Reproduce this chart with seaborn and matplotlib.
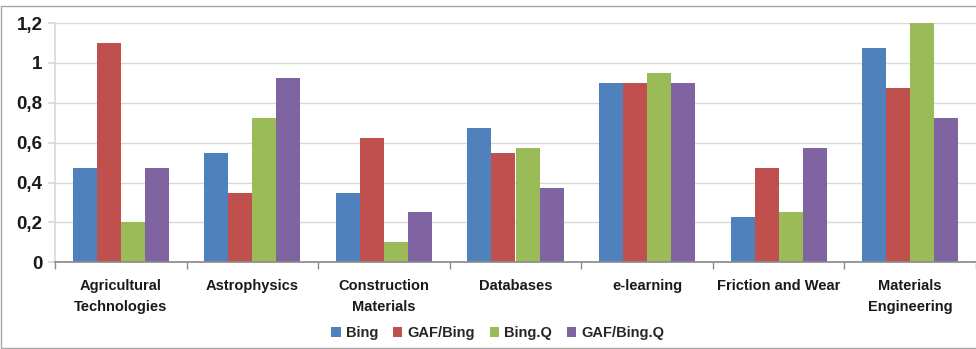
import matplotlib
matplotlib.use("Agg")
import matplotlib.pyplot as plt
from matplotlib.patches import Rectangle
from matplotlib.ticker import FixedLocator, FuncFormatter
import pandas as pd
import seaborn as sns

categories = ["Agricultural\nTechnologies", "Astrophysics", "Construction\nMaterials",
              "Databases", "e-learning", "Friction and Wear", "Materials\nEngineering"]
series_names = ["Bing", "GAF/Bing", "Bing.Q", "GAF/Bing.Q"]
bing = [0.475, 0.55, 0.35, 0.675, 0.9, 0.225, 1.075]
gaf_bing = [1.1, 0.35, 0.625, 0.55, 0.9, 0.475, 0.875]
bing_q = [0.2, 0.725, 0.1, 0.575, 0.95, 0.25, 1.2]
gaf_bing_q = [0.475, 0.925, 0.25, 0.375, 0.9, 0.575, 0.725]
colors = ["#4F81BD", "#C0504D", "#9BBB59", "#8064A2"]

rows = []
for name, vals in zip(series_names, [bing, gaf_bing, bing_q, gaf_bing_q]):
    for cat, v in zip(categories, vals):
        rows.append({"category": cat, "series": name, "value": v})
df = pd.DataFrame(rows)

sns.set_theme(style="white")
plt.rcParams["font.family"] = ["Liberation Sans Narrow", "Liberation Sans", "DejaVu Sans"]

fig = plt.figure(figsize=(9.76, 3.49), dpi=100)
ax = fig.add_axes([55 / 976, (349 - 262.3) / 349, 921 / 976, (262.3 - 23) / 349])

sns.barplot(data=df, x="category", y="value", hue="series", order=categories,
            hue_order=series_names, palette=colors, width=0.73, gap=0,
            saturation=1, linewidth=0, ax=ax, legend=True)

ax.set_ylim(0, 1.2)
ax.set_xlim(-0.5, len(categories) - 0.5)
ax.yaxis.set_major_locator(FixedLocator([0, 0.2, 0.4, 0.6, 0.8, 1.0, 1.2]))
ax.yaxis.set_major_formatter(FuncFormatter(lambda v, _: ("%g" % round(v, 1)).replace(".", ",")))
ax.grid(axis="y", color="#d9d9d9", linewidth=1)
ax.set_axisbelow(True)
ax.set_xlabel("")
ax.set_ylabel("")

for s in ["top", "right"]:
    ax.spines[s].set_visible(False)
ax.spines["left"].set_color("#d9d9d9")
ax.spines["bottom"].set_color("#8c8c8c")

ax.tick_params(axis="y", which="major", length=5, color="#d9d9d9", labelsize=13.5,
               pad=4, labelcolor="#1a1a1a", left=True)
for lbl in ax.get_yticklabels():
    lbl.set_fontweight("bold")

ax.xaxis.set_minor_locator(FixedLocator([i - 0.5 for i in range(len(categories) + 1)]))
ax.tick_params(axis="x", which="minor", length=5, color="#8c8c8c", bottom=True)
ax.tick_params(axis="x", which="major", length=0, labelsize=10.5, pad=12, labelcolor="#1a1a1a")
for lbl in ax.get_xticklabels():
    lbl.set_fontweight("bold")
    lbl.set_linespacing(1.6)

handles, labels = ax.get_legend_handles_labels()
ax.legend_.remove()
fig.legend(handles, labels, loc="center", bbox_to_anchor=(0.51, 16 / 349), ncol=4,
           frameon=False, handlelength=0.65, handleheight=0.65, handletextpad=0.35,
           columnspacing=1.0, prop={"weight": "bold", "size": 10.5})

fig.patches.append(Rectangle((1 / 976, 1 / 349), 1.0, (349 - 7) / 349,
                             transform=fig.transFigure, fill=False,
                             edgecolor="#a6a6a6", linewidth=1))

fig.savefig("out.png", dpi=100, facecolor="white")
